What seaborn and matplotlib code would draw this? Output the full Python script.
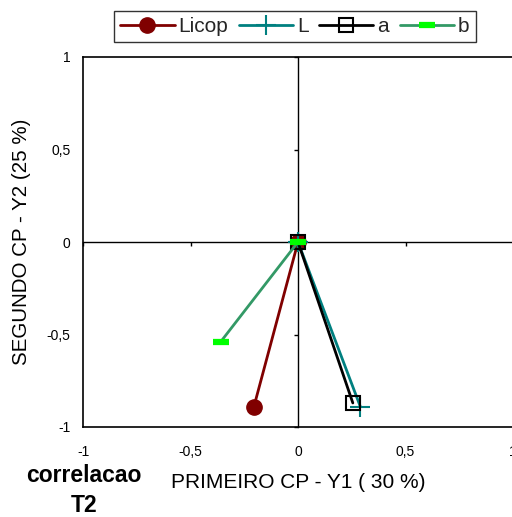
import matplotlib
matplotlib.use("Agg")
import matplotlib.pyplot as plt
import seaborn as sns
import pandas as pd
from matplotlib.ticker import FuncFormatter

series = ["Licop", "L", "a", "b"]
y1_values = [-0.205, 0.29, 0.255, -0.36]
y2_values = [-0.89, -0.89, -0.87, -0.54]
x_ticks = [-1, -0.5, 0, 0.5, 1]
y_ticks = [-1, -0.5, 0, 0.5, 1]

sns.set_theme(style="white")
plt.rcParams["font.family"] = ["Liberation Sans", "DejaVu Sans"]

rows = []
for s, x, y in zip(series, y1_values, y2_values):
    rows.append({"serie": s, "order": 0, "Y1": 0.0, "Y2": 0.0})
    rows.append({"serie": s, "order": 1, "Y1": x, "Y2": y})
df = pd.DataFrame(rows)

styles = {
    "Licop": dict(color="#800000", marker="o", markersize=11, markerfacecolor="#800000",
                  markeredgecolor="#800000", markeredgewidth=1),
    "L": dict(color="#008080", marker="+", markersize=14, markeredgecolor="#008080",
              markeredgewidth=1.5),
    "a": dict(color="black", marker="s", markersize=10, markerfacecolor="none",
              markeredgecolor="black", markeredgewidth=1.5),
    "b": dict(color="#339966", marker="_", markersize=12, markeredgecolor="#00FF00",
              markeredgewidth=4.5),
}

fig = plt.figure(figsize=(5.12, 5.17), dpi=100)
ax = fig.add_axes([83/512, 90/517, 430/512, 370/517])
ax.set_facecolor("white")

for s in series:
    sub = df[df["serie"] == s]
    sns.lineplot(data=sub, x="Y1", y="Y2", ax=ax, sort=False, estimator=None,
                 linewidth=2, label=s, **styles[s])

ax.set_xlim(-1, 1)
ax.set_ylim(-1, 1)
ax.set_xticks(x_ticks)
ax.set_yticks(y_ticks)
fmt = FuncFormatter(lambda v, p: ("%g" % v).replace(".", ","))
ax.xaxis.set_major_formatter(fmt)
ax.yaxis.set_major_formatter(fmt)
ax.tick_params(axis="both", length=0, labelsize=10, colors="black")
ax.tick_params(axis="x", pad=13)
ax.tick_params(axis="y", pad=9)
for side in ["left", "top", "bottom"]:
    ax.spines[side].set_visible(True)
    ax.spines[side].set_color("black")
    ax.spines[side].set_linewidth(1.2)
ax.spines["right"].set_visible(False)
ax.set_xlabel("PRIMEIRO CP - Y1 ( 30 %)", fontsize=15, color="black", labelpad=10)
ax.set_ylabel("SEGUNDO CP - Y2 (25 %)", fontsize=14.8, color="black", labelpad=11)
ax.get_legend().remove()

# center cross axes with small ticks
ax2 = fig.add_axes(ax.get_position(), sharex=ax, sharey=ax)
ax2.patch.set_alpha(0)
ax2.spines["left"].set_position(("data", 0))
ax2.spines["bottom"].set_position(("data", 0))
ax2.spines["right"].set_visible(False)
ax2.spines["top"].set_visible(False)
for side in ["left", "bottom"]:
    ax2.spines[side].set_visible(True)
    ax2.spines[side].set_color("black")
    ax2.spines[side].set_linewidth(1.0)
ax2.tick_params(axis="both", direction="out", length=3, width=1, colors="black",
                labelleft=False, labelbottom=False, left=True, bottom=True)
ax2.set_zorder(ax.get_zorder() - 1)
ax.patch.set_alpha(0)
fig.patch.set_facecolor("white")

handles, labels = ax.get_legend_handles_labels()
leg = fig.legend(handles, labels, loc="center", bbox_to_anchor=(0.576, 0.949), ncol=4,
                 fontsize=15, frameon=True, fancybox=False, shadow=False,
                 handlelength=2.6, handletextpad=0.2, columnspacing=0.5,
                 borderpad=0.3, edgecolor="black")
leg.get_frame().set_linewidth(1.0)

fig.text(84/512, 1 - 476/517, "correlacao", ha="center", va="center",
         fontsize=16.5, fontweight="bold", color="black")
fig.text(84/512, 1 - 506/517, "T2", ha="center", va="center",
         fontsize=16.5, fontweight="bold", color="black")

fig.savefig("out.png", dpi=100, facecolor="white")
